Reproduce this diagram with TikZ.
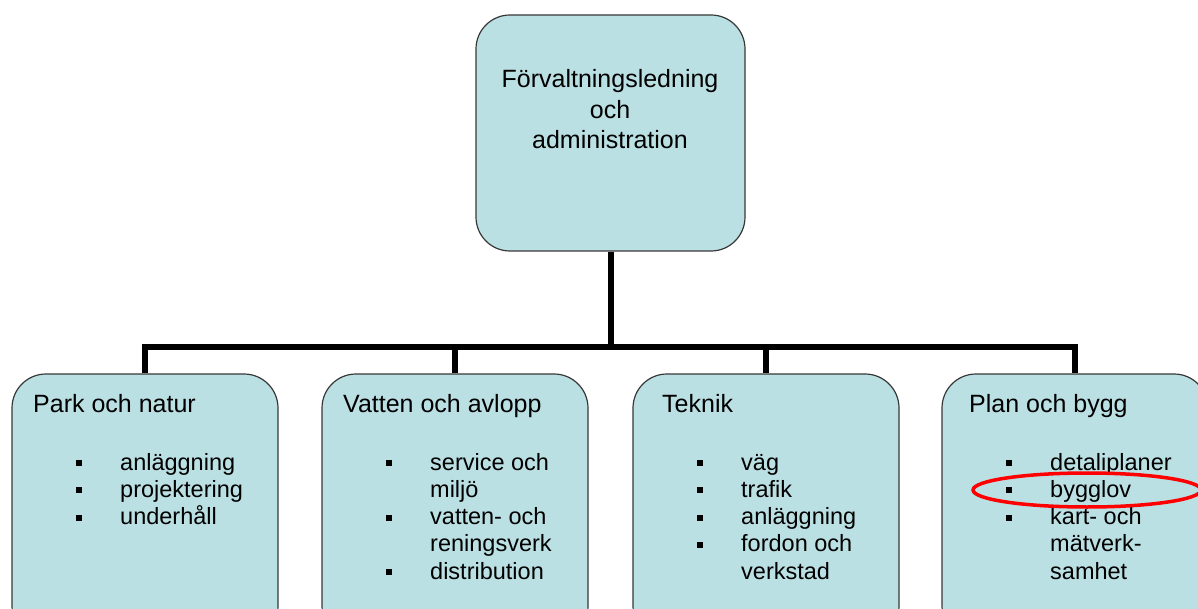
\documentclass[tikz,border=0pt]{standalone}
\usepackage{fontspec}
\setmainfont{Liberation Sans}

\definecolor{unitfill}{RGB}{187,224,227}
\definecolor{unitline}{RGB}{55,55,55}

\tikzset{
  unit/.style = {draw = unitline, fill = unitfill, line width = 1.2pt, rounded corners = 34pt, minimum width = 266pt, minimum height = 266pt, inner sep = 0pt},
  heading/.style = {anchor = base west, inner sep = 0pt, font = \fontsize{25}{30}\selectfont},
  entry/.style = {anchor = base west, inner sep = 0pt, font = \fontsize{23.5}{27}\selectfont},
  link/.style = {line width = 6pt},
}

\begin{document}
\begin{tikzpicture}[x = 1pt, y = -1pt]

\useasboundingbox (0, 0) rectangle (1198, 609);
\clip (0, 0) rectangle (1198, 609);

 % top box
 \node[unit, minimum width = 269pt, minimum height = 236pt] (head) at (610.5, 133) {};
 \foreach \txt/\y [count=\i] in {Förvaltningsledning/88, och/119, administration/149} {
   \node[anchor = base, inner sep = 0pt, font = \fontsize{25}{30}\selectfont] (head-\i) at (610, \y) {\txt};
 }

 % department boxes
 \node[unit] (park) at (145, 507) {};
 \node[unit] (vatten) at (455, 507) {};
 \node[unit] (teknik) at (766, 507) {};
 \node[unit] (plan) at (1075, 507) {};

 \coordinate (bar) at (head.south |- 0, 347);
 \draw[link] (head.south) -- (bar);
 \foreach \b in {park, vatten, teknik, plan}
   \draw[link] (bar) -| (\b.north);

 \node[heading] (park-title) at (33, 412) {Park och natur};
 \node[heading] (vatten-title) at (343, 412) {Vatten och avlopp};
 \node[heading] (teknik-title) at (662, 412) {Teknik};
 \node[heading] (plan-title) at (969, 412) {Plan och bygg};

\def\offset{12}
 \foreach \mark/\txt [count=\i from 0] in {1/anläggning, 1/projektering, 1/underhåll} {
   \node[entry] (park-\i) at ({\offset + 108}, {470 + 27.3 * \i}) {\txt};
   \ifnum\mark=1 \fill ({\offset + 64}, {460 + 27.3 * \i}) rectangle ++(6, 6); \fi
 }

\def\offset{322}
 \foreach \mark/\txt [count=\i from 0] in {1/service och, 0/miljö, 1/vatten- och, 0/reningsverk, 1/distribution} {
   \node[entry] (vatten-\i) at ({\offset + 108}, {470 + 27.3 * \i}) {\txt};
   \ifnum\mark=1 \fill ({\offset + 64}, {460 + 27.3 * \i}) rectangle ++(6, 6); \fi
 }

\def\offset{633}
 \foreach \mark/\txt [count=\i from 0] in {1/väg, 1/trafik, 1/anläggning, 1/fordon och, 0/verkstad} {
   \node[entry] (teknik-\i) at ({\offset + 108}, {470 + 27.3 * \i}) {\txt};
   \ifnum\mark=1 \fill ({\offset + 64}, {460 + 27.3 * \i}) rectangle ++(6, 6); \fi
 }

\def\offset{942}
 \foreach \mark/\txt [count=\i from 0] in {1/detaliplaner, 1/bygglov, 1/kart- och, 0/mätverk-, 0/samhet} {
   \node[entry] (plan-\i) at ({\offset + 108}, {470 + 27.3 * \i}) {\txt};
   \ifnum\mark=1 \fill ({\offset + 64}, {460 + 27.3 * \i}) rectangle ++(6, 6); \fi
 }

 % marking of bygglov
 \draw[red, line width = 3.5pt] (1087, 490) ellipse [x radius = 114, y radius = 17];

\end{tikzpicture}
\end{document}
